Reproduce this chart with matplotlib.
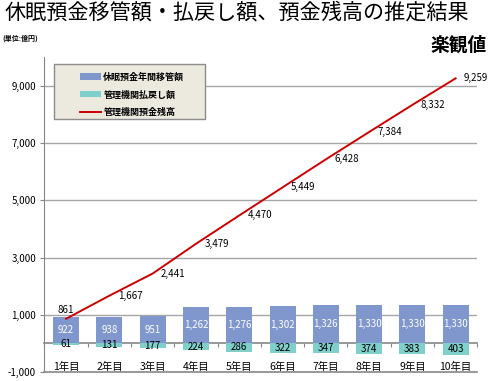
#!/usr/bin/env python3

import numpy as np
import matplotlib
matplotlib.use("Agg")
import matplotlib.pyplot as plt
from matplotlib.patches import Rectangle

plt.rcParams["font.family"] = ["Noto Sans CJK JP", "DejaVu Sans"]

# data (unit: 100 million yen)
years = ["1年目", "2年目", "3年目", "4年目", "5年目",
         "6年目", "7年目", "8年目", "9年目", "10年目"]
transfer = [922, 938, 951, 1262, 1276, 1302, 1326, 1330, 1330, 1330]
withdraw = [61, 131, 177, 224, 286, 322, 347, 374, 383, 403]
balance = [861, 1667, 2441, 3479, 4470, 5449, 6428, 7384, 8332, 9259]
y_ticks = [-1000, 1000, 3000, 5000, 7000, 9000]

BLUE = "#8097CD"
CYAN = "#7FCFCA"
RED = "#CC0000"
GRID = "#A6A6A6"
AXIS = "#868686"

fig = plt.figure(figsize=(4.89, 3.81), dpi=100)
ax = fig.add_axes([0.091, 0.0236, 0.885, 0.8264])

x = np.arange(len(years))
ymin, ymax = -1000, 10000
ax.set_xlim(-0.5, len(years) - 0.5)
ax.set_ylim(ymin, ymax)

# gridlines at the labelled positive ticks
for v in y_ticks[1:]:
    ax.axhline(v, color=GRID, lw=1, zorder=1)
ax.axhline(ymin, color=AXIS, lw=1.2, zorder=1, clip_on=False)

b1 = ax.bar(x, transfer, width=0.6, color=BLUE, zorder=2, label="休眠預金年間移管額")
b2 = ax.bar(x, [-w for w in withdraw], width=0.6, color=CYAN, zorder=2,
            label="管理機関払戻し額")
ln, = ax.plot(x, balance, color=RED, lw=1.4, zorder=4, label="管理機関預金残高")

# bar labels
for xi, t in zip(x, transfer):
    ax.text(xi, t / 2, f"{t:,}", ha="center", va="center",
            color="white", fontsize=7, zorder=5)
for xi, w in zip(x, withdraw):
    ax.text(xi, -w / 2, f"{w:,}", ha="center", va="center",
            color="black", fontsize=7, zorder=5)

# line labels
for i, (xi, b) in enumerate(zip(x, balance)):
    if i == 0:
        ax.annotate(f"{b:,}", (xi, b), xytext=(0, 3), textcoords="offset points",
                    ha="center", va="bottom", fontsize=7, zorder=5)
    else:
        ax.annotate(f"{b:,}", (xi, b), xytext=(6, 0), textcoords="offset points",
                    ha="left", va="center", fontsize=7, zorder=5)

# category labels just above the bottom line
for xi, name in zip(x, years):
    ax.text(xi, -814, name, ha="center", va="center", fontsize=7.5, zorder=5)

# y axis
for side in ("top", "right", "bottom"):
    ax.spines[side].set_visible(False)
ax.spines["left"].set_color(AXIS)
ax.set_yticks(y_ticks)
ax.set_yticklabels([f"{v:,}" for v in y_ticks], fontsize=7)
ax.tick_params(axis="y", length=3, color=AXIS, pad=3)
ax.set_xticks([])

# zero line with category tick marks
zero_loc = (0 - ymin) / (ymax - ymin)
sec = ax.secondary_xaxis(zero_loc)
sec.set_xticks(np.arange(-0.5, len(years), 1.0))
sec.set_xticklabels([])
sec.tick_params(axis="x", direction="out", length=3, color=AXIS)
sec.spines["bottom"].set_color(AXIS)
sec.spines["bottom"].set_linewidth(1.2)

# legend box
ax.add_patch(Rectangle((0.022, 0.803), 0.349, 0.175, transform=ax.transAxes,
                       facecolor="#ECE9DF", edgecolor="#8C8C8C", lw=1, zorder=6))
leg = ax.legend(handles=[b1, b2, ln], loc="upper left",
                bbox_to_anchor=(0.065, 0.975), frameon=False,
                handlelength=2.3, handleheight=0.7,
                handletextpad=0.3, labelspacing=0.95, borderpad=0.3,
                prop={"weight": "bold", "size": 6.5})
leg.set_zorder(7)

fig.text(0.01, 1 - 13 / 381, "休眠預金移管額・払戻し額、預金残高の推定結果",
         fontsize=15.2, va="center", ha="left")
fig.text(0.004, 1 - 38 / 381, "(単位:億円)", fontsize=5, fontweight="bold",
         va="center", ha="left")
fig.text(0.996, 1 - 45 / 381, "楽観値", fontsize=13.5, fontweight="bold",
         va="center", ha="right")

fig.savefig("out.png", dpi=100)
